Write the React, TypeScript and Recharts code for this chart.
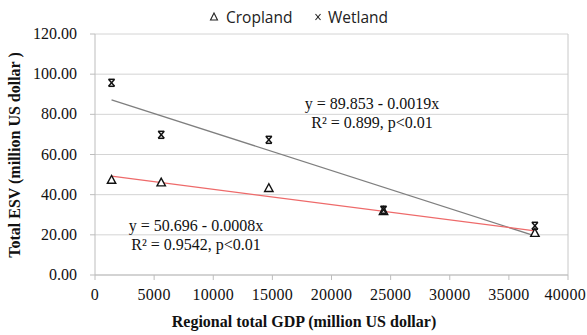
import React from 'react';
import { ScatterChart, Scatter, XAxis, YAxis, CartesianGrid, ReferenceLine, Customized } from 'recharts';

const gdp = [1400, 5600, 14700, 24400, 37200];
const cropland = [47.3, 46.0, 43.2, 31.8, 20.9];
const wetland = [95.7, 69.8, 67.3, 32.5, 24.5];
const trendX = [1400, 37200];
const wetlandTrend = [87.2, 19.5];
const croplandTrend = [49.2, 22.0];
const xTicks = [0, 5000, 10000, 15000, 20000, 25000, 30000, 35000, 40000];
const yTicks = [0, 20, 40, 60, 80, 100, 120];

const croplandData = gdp.map((x, i) => ({ x, y: cropland[i] }));
const wetlandData = gdp.map((x, i) => ({ x, y: wetland[i] }));
const wetlandTrendData = trendX.map((x, i) => ({ x, y: wetlandTrend[i] }));
const croplandTrendData = trendX.map((x, i) => ({ x, y: croplandTrend[i] }));

const SERIF = '"Liberation Serif", "Times New Roman", serif';
const SANS = '"Open Sans", "Noto Sans", sans-serif';

const Triangle = (props: any) => {
  const { cx, cy } = props;
  return (
    <polygon
      points={`${cx},${cy - 4.5} ${cx - 4.2},${cy + 3.3} ${cx + 4.2},${cy + 3.3}`}
      fill="#fff"
      stroke="#111"
      strokeWidth={1.4}
    />
  );
};

const Hourglass = (props: any) => {
  const { cx, cy } = props;
  const w = 3, h = 3.5;
  return (
    <g stroke="#111" strokeWidth={1.5}>
      <line x1={cx - w} y1={cy - h} x2={cx + w} y2={cy + h} />
      <line x1={cx + w} y1={cy - h} x2={cx - w} y2={cy + h} />
      <line x1={cx - w} y1={cy - h} x2={cx + w} y2={cy - h} />
      <line x1={cx - w} y1={cy + h} x2={cx + w} y2={cy + h} />
    </g>
  );
};

const Empty = () => <g />;

const XTick = (props: any) => {
  const { x, y, payload } = props;
  const last = x > 560;
  return (
    <text
      x={last ? 586 : x}
      y={y}
      dy={17}
      textAnchor={last ? 'end' : 'middle'}
      fontFamily={SERIF}
      fontSize={16}
      fill="#111"
      letterSpacing={0.3}
    >
      {payload.value}
    </text>
  );
};

const YTick = (props: any) => {
  const { x, y, payload } = props;
  return (
    <text x={x} y={y} dy={5} textAnchor="end" fontFamily={SERIF} fontSize={16} fill="#111">
      {Number(payload.value).toFixed(2)}
    </text>
  );
};

const Annotations = () => (
  <g fontFamily={SERIF} fontSize={16} fill="#111" textAnchor="middle">
    <text x={372} y={109}>y = 89.853  - 0.0019x</text>
    <text x={372} y={128}>R² = 0.899, p&lt;0.01</text>
    <text x={196} y={231}>y = 50.696 - 0.0008x</text>
    <text x={196} y={250}>R² = 0.9542, p&lt;0.01</text>
    <text x={304} y={327} fontWeight="bold" fontSize={16}>Regional total GDP (million US dollar)</text>
    <text x={0} y={0} fontWeight="bold" fontSize={16} transform="translate(20,155) rotate(-90)">Total ESV (million US dollar )</text>
    <g>
      <polygon points="214,13 210.5,20 217.5,20" fill="#fff" stroke="#222" strokeWidth={1.1} />
      <text x={226} y={23} textAnchor="start" fontFamily={SANS} fontSize={15.5} fill="#222">Cropland</text>
      <g stroke="#222" strokeWidth={1.1}>
        <line x1={315.5} y1={14} x2={320.5} y2={20} />
        <line x1={320.5} y1={14} x2={315.5} y2={20} />
      </g>
      <text x={328} y={23} textAnchor="start" fontFamily={SANS} fontSize={15.5} fill="#222">Wetland</text>
    </g>
  </g>
);

export default function App() {
  return (
    <div style={{ position: 'absolute', left: 0, top: 0, width: 587, height: 335, background: '#fff' }}>
      <ScatterChart width={587} height={335} margin={{ top: 34, right: 19, bottom: 0, left: 0 }}>
        <CartesianGrid horizontal vertical={false} stroke="#d4d4d4" strokeWidth={1} />
        <XAxis
          type="number"
          dataKey="x"
          domain={[0, 40000]}
          ticks={xTicks}
          height={60}
          axisLine={{ stroke: '#bdbdbd' }}
          tickLine={{ stroke: '#bdbdbd' }}
          tickSize={5}
          tickMargin={3}
          tick={<XTick />}
          interval={0}
        />
        <YAxis
          type="number"
          dataKey="y"
          domain={[0, 120]}
          ticks={yTicks}
          width={95}
          axisLine={{ stroke: '#bdbdbd' }}
          tickLine={{ stroke: '#bdbdbd' }}
          tickSize={5}
          tickMargin={13}
          tick={<YTick />}
          interval={0}
        />
        <ReferenceLine x={40000} stroke="#c8c8c8" />
        <Scatter name="WetlandTrend" data={wetlandTrendData} line={{ stroke: '#7f7f7f', strokeWidth: 1.3 }} shape={<Empty />} isAnimationActive={false} legendType="none" />
        <Scatter name="CroplandTrend" data={croplandTrendData} line={{ stroke: '#ee6a6a', strokeWidth: 1.3 }} shape={<Empty />} isAnimationActive={false} legendType="none" />
        <Scatter name="Cropland" data={croplandData} shape={<Triangle />} isAnimationActive={false} />
        <Scatter name="Wetland" data={wetlandData} shape={<Hourglass />} isAnimationActive={false} />
        <Customized component={<Annotations />} />
      </ScatterChart>
    </div>
  );
}
